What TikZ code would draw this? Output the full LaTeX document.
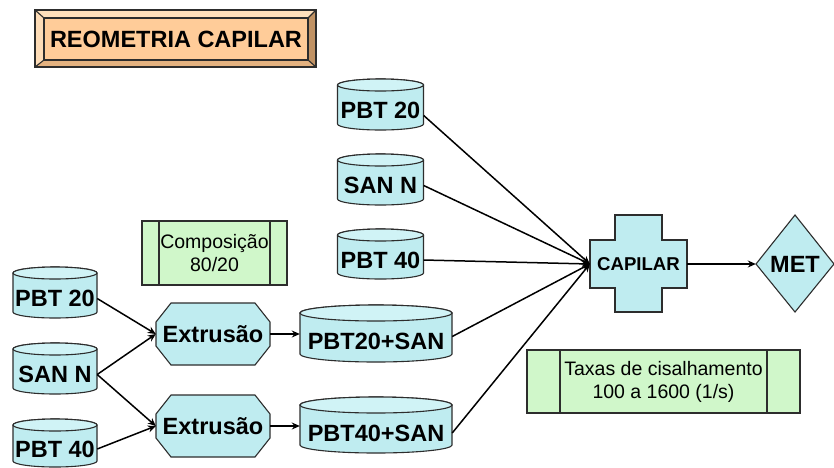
\documentclass[tikz,border=0pt]{standalone}
\usepackage{fontspec}
\setmainfont{Liberation Sans}
\usetikzlibrary{arrows.meta,calc}

\definecolor{tube}{RGB}{191,236,240}
\definecolor{tubetop}{RGB}{208,243,246}
\definecolor{note}{RGB}{208,247,202}
\definecolor{edge}{RGB}{45,45,45}
\definecolor{peach}{RGB}{255,204,153}
\definecolor{bevlight}{RGB}{255,224,188}
\definecolor{bevmid}{RGB}{228,178,128}
\definecolor{bevdark}{RGB}{192,146,100}

\tikzset{
  shapeline/.style={draw=edge, line width=1.1pt},
  bigtext/.style={font=\fontsize{23.5}{28}\selectfont\bfseries, inner sep=0pt, text=black},
  smalltext/.style={font=\fontsize{18.6}{22}\selectfont\bfseries, inner sep=0pt},
  notetext/.style={font=\fontsize{19.5}{23}\selectfont, align=center, inner sep=0pt},
  flow/.style={draw=black, line width=1.5pt, -{Stealth[length=8pt,width=7pt]}},
}

% tank: name, cx, top, bottom, half width, cap radius, text
\newcommand\tank[7]{%
  \filldraw[shapeline, fill=tube]
    ({#2-#5},{#3+#6}) -- ({#2-#5},{#4-#6})
    arc[start angle=180, end angle=0, x radius=#5, y radius=#6]
    -- ({#2+#5},{#3+#6})
    arc[start angle=0, end angle=-180, x radius=#5, y radius=#6] -- cycle;
  \filldraw[shapeline, fill=tubetop] (#2,{#3+#6}) ellipse[x radius=#5, y radius=#6];
  \node[bigtext, minimum width={2*#5}, minimum height={#4-#3-2*#6}]
    (#1) at (#2,{(#3+2*#6+#4)/2}) {#7};
}

% octagonal process: name, cx, cy, width, height, text
\newcommand\octo[6]{%
  \filldraw[shapeline, fill=tube]
    ({#2-#4/2+15},{#3-#5/2}) -- ({#2+#4/2-15},{#3-#5/2})
    -- ({#2+#4/2},{#3-#5/2+19}) -- ({#2+#4/2},{#3+#5/2-19})
    -- ({#2+#4/2-15},{#3+#5/2}) -- ({#2-#4/2+15},{#3+#5/2})
    -- ({#2-#4/2},{#3+#5/2-19}) -- ({#2-#4/2},{#3-#5/2+19}) -- cycle;
  \node[bigtext, minimum width=#4, minimum height=#5] (#1) at (#2,#3) {#6};
}

% note box with side bars: name, x0, y0, x1, y1, bar inset, text
\newcommand\notebox[7]{%
  \filldraw[shapeline, fill=note] (#2,#3) rectangle (#4,#5);
  \draw[shapeline] ({#2+#6},#3) -- ({#2+#6},#5);
  \draw[shapeline] ({#4-#6},#3) -- ({#4-#6},#5);
  \node[notetext] (#1) at ({(#2+#4)/2},{(#3+#5)/2}) {#7};
}

\begin{document}
\begin{tikzpicture}[x=1pt, y=-1pt]
\useasboundingbox[fill=white] (0,0) rectangle (834,467);

% beveled title plate
\fill[bevlight] (35,10) -- (316,10) -- (308,18) -- (44,18) -- cycle;
\fill[bevlight!92!bevmid] (35,10) -- (44,18) -- (44,60) -- (35,67) -- cycle;
\fill[bevdark] (316,10) -- (316,67) -- (308,60) -- (308,18) -- cycle;
\fill[bevmid] (35,67) -- (316,67) -- (308,60) -- (44,60) -- cycle;
\filldraw[shapeline, fill=peach] (44,18) rectangle (308,60);
\draw[shapeline] (35,10) rectangle (316,67);
\draw[shapeline] (35,10) -- (44,18) (316,10) -- (308,18)
                 (35,67) -- (44,60) (316,67) -- (308,60);
\node[bigtext] (title) at (176,39.5) {REOMETRIA CAPILAR};

% raw materials fed straight to the rheometer
\tank{pa}{380.5}{79}{130}{43}{6}{PBT 20}
\tank{sa}{380.5}{154}{205}{43}{6}{SAN N}
\tank{pb}{380.5}{229}{279}{43}{6}{PBT 40}

% raw materials for the blends
\tank{pc}{55}{267}{318}{42}{6}{PBT 20}
\tank{sb}{55}{343}{394}{42}{6}{SAN N}
\tank{pd}{55}{419}{467}{42}{6}{PBT 40}

% extrusion steps
\octo{exa}{213}{334}{114}{62}{Extrusão}
\octo{exb}{213}{426}{114}{62}{Extrusão}

% blends
\tank{ba}{376}{305}{362}{76}{8}{PBT20+SAN}
\tank{bb}{376}{397}{453}{76}{8}{PBT40+SAN}

% notes
\notebox{comp}{142}{221}{287}{285}{17}{Composição\\80/20}
\notebox{taxa}{527}{350}{800}{413}{33}{Taxas de cisalhamento\\100 a 1600 (1/s)}

% capillary rheometer (cross)
\filldraw[shapeline, fill=tube]
  (615,215) -- (662,215) -- (662,240) -- (687,240) -- (687,288) -- (662,288)
  -- (662,312) -- (615,312) -- (615,288) -- (590,288) -- (590,240) -- (615,240) -- cycle;
\node[smalltext, minimum width=97, minimum height=48] (cap) at (638.5,264) {CAPILAR};

% MET decision
\filldraw[shapeline, fill=tube] (756,264) -- (795,215) -- (834,264) -- (795,312) -- cycle;
\node[bigtext, minimum width=78, minimum height=97] (met) at (795,264) {MET};

% connectors
\draw[flow] (pc.east) -- (exa.west);
\draw[flow] (sb.east) -- (exa.west);
\draw[flow] (sb.east) -- (exb.west);
\draw[flow] (pd.east) -- (exb.west);
\draw[flow] (exa.east) -- (exa.east -| ba.west);
\draw[flow] (exb.east) -- (exb.east -| bb.west);
\draw[flow] ([yshift=-5pt]pa.east) -- (cap.west);
\draw[flow] (sa.east) -- (cap.west);
\draw[flow] (pb.east) -- (cap.west);
\draw[flow] ([yshift=5pt]ba.east) -- (cap.west);
\draw[flow] (bb.east) -- (cap.west);
\draw[flow] (cap.east) -- (met.west);
\end{tikzpicture}
\end{document}
